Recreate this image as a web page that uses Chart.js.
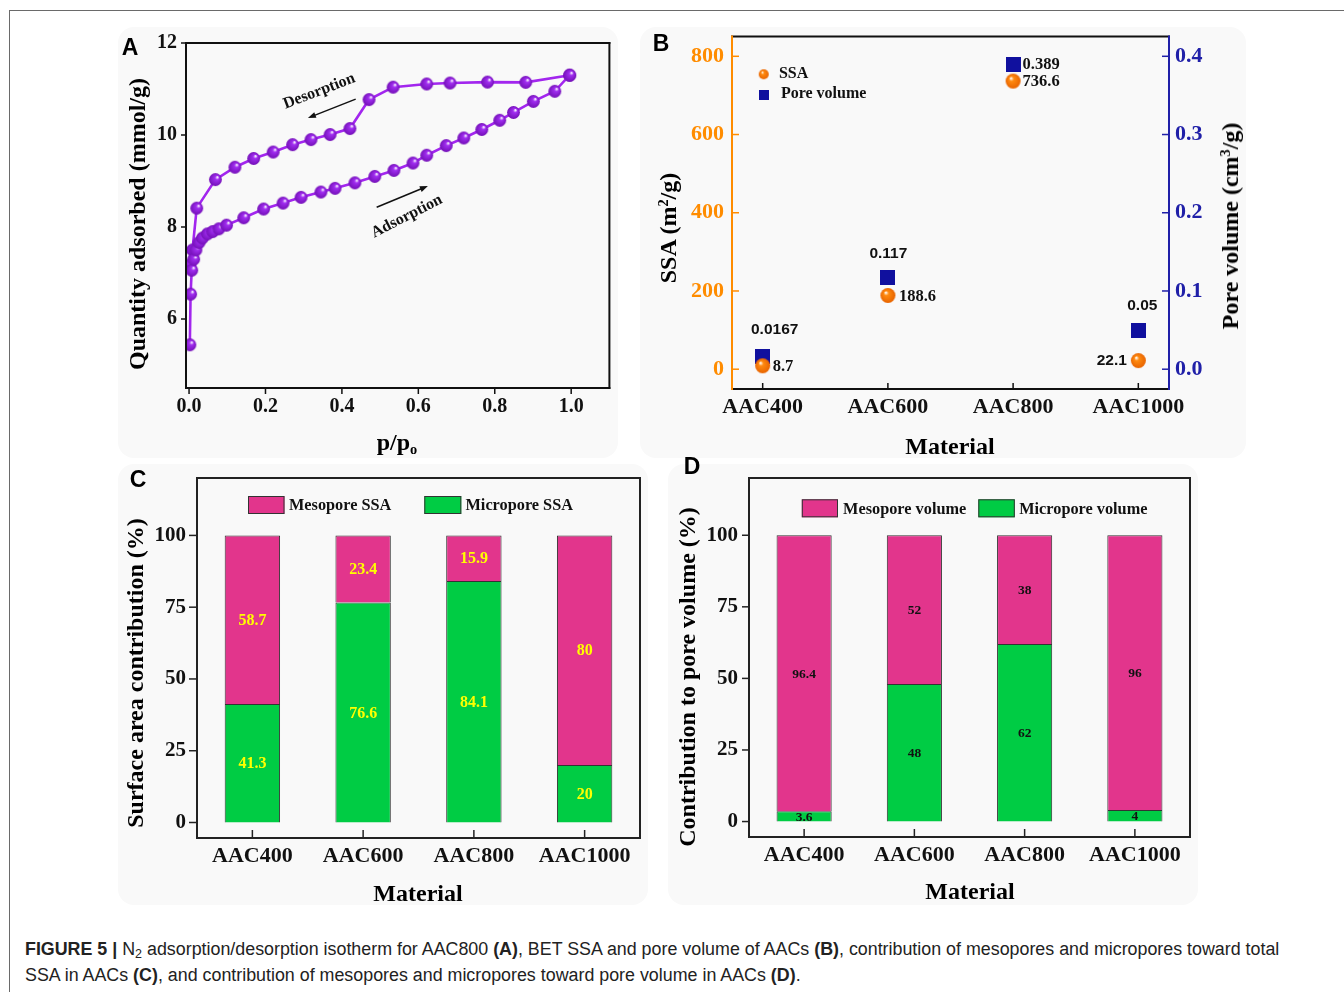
<!DOCTYPE html>
<html><head><meta charset="utf-8">
<script src="https://cdn.jsdelivr.net/npm/chart.js@4.4.1/dist/chart.umd.min.js"></script>
<style>
html,body{margin:0;padding:0;background:#fff;}
body{width:1344px;height:992px;overflow:hidden;position:relative;font-family:'Liberation Serif','Times New Roman',serif;}
.hl{position:absolute;background:#6a6a6a;}
.panel{position:absolute;background:#f9f9f9;border-radius:16px;}
canvas{position:absolute;}
.letter{position:absolute;font-family:'Liberation Sans',Arial,sans-serif;font-weight:bold;font-size:23px;line-height:1;color:#000;transform:translate(-50%,-50%);}
.title{position:absolute;font-family:'Liberation Serif','Times New Roman',serif;font-weight:bold;font-size:24px;line-height:1;white-space:nowrap;color:#000;}
.title sup{font-size:0.6em;vertical-align:0.55em;line-height:0;}
.title sub{font-size:0.6em;vertical-align:-0.3em;line-height:0;}
.caption{position:absolute;left:25px;top:936px;font-family:'Liberation Sans',Arial,sans-serif;font-size:16.5px;line-height:26px;color:#222;white-space:nowrap;}
.caption span{display:block;}
.caption sub{font-size:0.7em;vertical-align:-0.25em;line-height:0;}
</style>
</head>
<body>
<div class="hl" style="left:9px;top:10px;width:1335px;height:1px;"></div>
<div class="hl" style="left:9px;top:10px;width:1px;height:982px;"></div>

<div class="panel" style="left:118px;top:27px;width:500px;height:431px;"></div>
<div class="panel" style="left:640px;top:27px;width:606px;height:431px;"></div>
<div class="panel" style="left:118px;top:464px;width:530px;height:441px;"></div>
<div class="panel" style="left:668px;top:464px;width:530px;height:441px;"></div>

<canvas id="cA" width="500" height="432" style="left:118px;top:28px;"></canvas>
<canvas id="cB" width="605" height="432" style="left:640px;top:28px;"></canvas>
<canvas id="cC" width="530" height="444" style="left:118px;top:462px;"></canvas>
<canvas id="cD" width="530" height="444" style="left:668px;top:462px;"></canvas>

<div class="letter" style="left:130px;top:47px;">A</div>
<div class="letter" style="left:661px;top:43px;">B</div>
<div class="letter" style="left:138px;top:479px;">C</div>
<div class="letter" style="left:692px;top:466px;">D</div>

<div class="title" style="left:137px;top:224px;transform:translate(-50%,-50%) rotate(-90deg);">Quantity adsorbed (mmol/g)</div>
<div class="title" style="left:397px;top:442px;transform:translate(-50%,-50%);">p/p<sub>o</sub></div>
<div class="title" style="left:668px;top:228px;transform:translate(-50%,-50%) rotate(-90deg);">SSA (m<sup>2</sup>/g)</div>
<div class="title" style="left:1230px;top:226px;transform:translate(-50%,-50%) rotate(-90deg);">Pore volume (cm<sup>3</sup>/g)</div>
<div class="title" style="left:950px;top:446px;transform:translate(-50%,-50%);">Material</div>
<div class="title" style="left:135px;top:673px;transform:translate(-50%,-50%) rotate(-90deg);">Surface area contribution (%)</div>
<div class="title" style="left:418px;top:893px;transform:translate(-50%,-50%);">Material</div>
<div class="title" style="left:687px;top:677px;transform:translate(-50%,-50%) rotate(-90deg);">Contribution to pore volume (%)</div>
<div class="title" style="left:970px;top:891px;transform:translate(-50%,-50%);">Material</div>

<div class="caption" id="cap">
<span id="cap1"><b>FIGURE 5 |</b> N<sub>2</sub> adsorption/desorption isotherm for AAC800 <b>(A)</b>, BET SSA and pore volume of AACs <b>(B)</b>, contribution of mesopores and micropores toward total</span>
<span>SSA in AACs <b>(C)</b>, and contribution of mesopores and micropores toward pore volume in AACs <b>(D)</b>.</span>
</div>

<script>
// ---------------- DATA ----------------
const materials = ['AAC400', 'AAC600', 'AAC800', 'AAC1000'];

// Panel A: N2 isotherm (p/p0, mmol/g)
const adsorptionP = [0.002, 0.004, 0.007, 0.012, 0.018, 0.026, 0.035, 0.048, 0.062, 0.078, 0.098, 0.143, 0.195, 0.246, 0.293, 0.345, 0.382, 0.434, 0.486, 0.536, 0.586, 0.622, 0.673, 0.719, 0.766, 0.813, 0.849, 0.901, 0.957, 0.996];
const adsorptionQ = [5.44, 6.54, 7.06, 7.30, 7.50, 7.66, 7.76, 7.85, 7.90, 7.96, 8.04, 8.20, 8.39, 8.52, 8.645, 8.76, 8.84, 8.96, 9.10, 9.23, 9.39, 9.56, 9.77, 9.935, 10.12, 10.32, 10.49, 10.73, 10.95, 11.30];
const desorptionP = [0.996, 0.881, 0.781, 0.683, 0.622, 0.534, 0.471, 0.421, 0.369, 0.319, 0.271, 0.220, 0.169, 0.120, 0.069, 0.020, 0.009, 0.002];
const desorptionQ = [11.30, 11.145, 11.15, 11.13, 11.11, 11.04, 10.77, 10.14, 10.01, 9.90, 9.79, 9.63, 9.49, 9.30, 9.03, 8.41, 7.50, 7.17];
const isothermXTicks = [0, 0.2, 0.4, 0.6, 0.8, 1.0];
const isothermYTicks = [6, 8, 10, 12];

// Panel B
const ssaValues = [8.7, 188.6, 736.6, 22.1];
const poreVolumeValues = [0.0167, 0.117, 0.389, 0.05];
const ssaTicks = [0, 200, 400, 600, 800];
const poreTicks = [0.0, 0.1, 0.2, 0.3, 0.4];

// Panel C (%)
const microporeSSA = [41.3, 76.6, 84.1, 20];
const mesoporeSSA = [58.7, 23.4, 15.9, 80];

// Panel D (%)
const microporeVolume = [3.6, 48, 62, 4];
const mesoporeVolume = [96.4, 52, 38, 96];
const percentTicks = [0, 25, 50, 75, 100];

// ---------------- STYLE ----------------
const SERIF = "'Liberation Serif', 'Times New Roman', serif";
const SANS = "'Liberation Sans', Arial, sans-serif";
const PURPLE = '#A226EE';
const ORANGE = '#FF8C00';
const NAVY = '#10109E';
const AXISBLUE = '#2020A8';
const PINK = '#E2358C';
const GREEN = '#00CC44';

function sphere(r, base, dark, hx, hy) {
  const s = Math.ceil(2 * r + 2);
  const c = document.createElement('canvas');
  c.width = s; c.height = s;
  const g = c.getContext('2d');
  const cx = s / 2, cy = s / 2;
  const grad = g.createRadialGradient(cx + hx * r, cy + hy * r, r * 0.05, cx, cy, r);
  grad.addColorStop(0, '#ffffff');
  grad.addColorStop(0.28, base);
  grad.addColorStop(1, dark);
  g.fillStyle = grad;
  g.beginPath(); g.arc(cx, cy, r, 0, Math.PI * 2); g.fill();
  return c;
}
function square(side, color) {
  const c = document.createElement('canvas');
  c.width = side; c.height = side;
  const g = c.getContext('2d');
  g.fillStyle = color; g.fillRect(0, 0, side, side);
  return c;
}
const purpleBall = sphere(6.4, '#A12EF0', '#7410B8', 0.35, -0.4);
const orangeBall = sphere(7.5, '#FF8A10', '#E86400', -0.3, -0.4);
const navySquare = square(15, NAVY);
const orangeBallSmall = sphere(5, '#FF8A10', '#E86400', -0.3, -0.4);
const navySquareSmall = square(10, NAVY);

const fixTicks = (arr) => (s) => { s.ticks = arr.map(v => ({ value: v })); };
const fitY = (w) => (s) => { s.width = w; s.paddingTop = 0; s.paddingBottom = 0; };
const fitX = (h) => (s) => { s.height = h; s.paddingLeft = 0; s.paddingRight = 0; };

const framePlugin = {
  id: 'frame',
  afterDraw(chart, args, o) {
    const { ctx, chartArea: a } = chart;
    ctx.save();
    (o.ticks || []).forEach(t => {
      const s = chart.scales[t.scale];
      ctx.strokeStyle = t.color; ctx.lineWidth = t.width || 1.5;
      const sign = t.dir === 'in' ? 1 : -1;
      s.ticks.forEach((tk, i) => {
        const p = s.getPixelForTick(i);
        ctx.beginPath();
        if (t.side === 'left') { ctx.moveTo(a.left, p); ctx.lineTo(a.left + sign * t.len, p); }
        else if (t.side === 'right') { ctx.moveTo(a.right, p); ctx.lineTo(a.right - sign * t.len, p); }
        else { ctx.moveTo(p, a.bottom); ctx.lineTo(p, a.bottom - sign * t.len); }
        ctx.stroke();
      });
    });
    const lw = o.lineWidth || 2, h = lw / 2;
    ctx.lineWidth = lw;
    const seg = (c, x1, y1, x2, y2) => { ctx.strokeStyle = c; ctx.beginPath(); ctx.moveTo(x1, y1); ctx.lineTo(x2, y2); ctx.stroke(); };
    seg(o.top, a.left - h, a.top, a.right + h, a.top);
    seg(o.bottom, a.left - h, a.bottom, a.right + h, a.bottom);
    seg(o.left, a.left, a.top - h, a.left, a.bottom + h);
    seg(o.right, a.right, a.top - h, a.right, a.bottom + h);
    ctx.restore();
  }
};

const barLabelPlugin = {
  id: 'barLabels',
  afterDatasetsDraw(chart, args, o) {
    const ctx = chart.ctx;
    ctx.save();
    ctx.font = o.font; ctx.fillStyle = o.color;
    ctx.textAlign = 'center'; ctx.textBaseline = 'middle';
    chart.data.datasets.forEach((ds, di) => {
      chart.getDatasetMeta(di).data.forEach((el, i) => {
        ctx.fillText(String(ds.data[i]), el.x, (el.y + el.base) / 2 + (o.dy || 0));
      });
    });
    ctx.restore();
  }
};

const boxLegendPlugin = {
  id: 'boxLegend',
  afterDraw(chart, args, o) {
    const ctx = chart.ctx;
    ctx.save();
    o.items.forEach(it => {
      const ds = chart.data.datasets[it.dataset];
      ctx.fillStyle = ds.backgroundColor;
      ctx.fillRect(it.x, it.y, it.w, it.h);
      ctx.strokeStyle = '#333'; ctx.lineWidth = 1;
      ctx.strokeRect(it.x + 0.5, it.y + 0.5, it.w - 1, it.h - 1);
      ctx.fillStyle = '#111'; ctx.font = o.font;
      ctx.textAlign = 'left'; ctx.textBaseline = 'middle';
      ctx.fillText(ds.label, it.tx, it.y + it.h / 2 + 1);
    });
    ctx.restore();
  }
};

const notesPlugin = {
  id: 'notes',
  afterDatasetsDraw(chart, args, o) {
    const { ctx } = chart;
    const sx = chart.scales.x, sy = chart.scales.y;
    ctx.save();
    ctx.fillStyle = '#111'; ctx.strokeStyle = '#111';
    o.arrows.forEach(ar => {
      const x1 = sx.getPixelForValue(ar.from[0]), y1 = sy.getPixelForValue(ar.from[1]);
      const x2 = sx.getPixelForValue(ar.to[0]), y2 = sy.getPixelForValue(ar.to[1]);
      const ang = Math.atan2(y2 - y1, x2 - x1);
      const hl = 8, hw = 3;
      ctx.lineWidth = 1.5;
      ctx.beginPath(); ctx.moveTo(x1, y1);
      ctx.lineTo(x2 - Math.cos(ang) * hl * 0.8, y2 - Math.sin(ang) * hl * 0.8); ctx.stroke();
      ctx.beginPath();
      ctx.moveTo(x2, y2);
      ctx.lineTo(x2 - Math.cos(ang) * hl + Math.sin(ang) * hw, y2 - Math.sin(ang) * hl - Math.cos(ang) * hw);
      ctx.lineTo(x2 - Math.cos(ang) * hl - Math.sin(ang) * hw, y2 - Math.sin(ang) * hl + Math.cos(ang) * hw);
      ctx.closePath(); ctx.fill();
    });
    ctx.font = o.font; ctx.textAlign = 'center'; ctx.textBaseline = 'middle';
    o.labels.forEach(l => {
      ctx.save();
      ctx.translate(sx.getPixelForValue(l.at[0]), sy.getPixelForValue(l.at[1]));
      ctx.rotate(l.angle * Math.PI / 180);
      ctx.fillText(l.text, 0, 0);
      ctx.restore();
    });
    ctx.restore();
  }
};

const pointLabelPlugin = {
  id: 'pointLabels',
  afterDatasetsDraw(chart, args, o) {
    const ctx = chart.ctx;
    ctx.save();
    ctx.fillStyle = '#111'; ctx.textBaseline = 'middle';
    o.sets.forEach(set => {
      const ds = chart.data.datasets[set.dataset];
      chart.getDatasetMeta(set.dataset).data.forEach((el, i) => {
        const st = set.styles[i];
        ctx.font = st.serif ? `bold 16.5px ${SERIF}` : `bold 15.5px ${SANS}`;
        ctx.textAlign = st.align;
        ctx.fillText(String(ds.data[i].y), el.x + st.dx, el.y + st.dy);
      });
    });
    ctx.restore();
  }
};

const pointLegendPlugin = {
  id: 'pointLegend',
  afterDraw(chart, args, o) {
    const ctx = chart.ctx;
    ctx.save();
    ctx.fillStyle = '#111'; ctx.font = o.font; ctx.textAlign = 'left'; ctx.textBaseline = 'middle';
    o.items.forEach(it => {
      const ds = chart.data.datasets[it.dataset];
      ctx.drawImage(it.icon, it.x - it.icon.width / 2, it.y - it.icon.height / 2);
      ctx.fillText(ds.label, it.tx, it.ty);
    });
    ctx.restore();
  }
};

Chart.defaults.animation = false;
Chart.defaults.responsive = false;
Chart.defaults.plugins.legend.display = false;
Chart.defaults.plugins.tooltip.enabled = false;

const tickFont = (size) => ({ family: SERIF, weight: 'bold', size: size });
const noGrid = { display: false, drawTicks: false };
const noBorder = { display: false };

// ---------------- PANEL A ----------------
new Chart(document.getElementById('cA'), {
  type: 'line',
  data: {
    datasets: [
      { label: 'Adsorption', data: adsorptionP.map((p, i) => ({ x: p, y: adsorptionQ[i] })),
        borderColor: PURPLE, borderWidth: 2.6, pointStyle: purpleBall, pointRadius: 6, tension: 0, fill: false },
      { label: 'Desorption', data: desorptionP.map((p, i) => ({ x: p, y: desorptionQ[i] })),
        borderColor: PURPLE, borderWidth: 2.6, pointStyle: purpleBall, pointRadius: 6, tension: 0, fill: false }
    ]
  },
  options: {
    layout: { padding: { top: 15, right: 7, left: 0, bottom: 0 } },
    scales: {
      x: { type: 'linear', min: -0.008, max: 1.1, grid: noGrid, border: noBorder,
           afterBuildTicks: fixTicks(isothermXTicks), afterFit: fitX(72),
           ticks: { autoSkip: false, font: tickFont(20), color: '#111', padding: 7, callback: v => v.toFixed(1) } },
      y: { type: 'linear', min: 4.5, max: 12, grid: noGrid, border: noBorder,
           afterBuildTicks: fixTicks(isothermYTicks), afterFit: fitY(68),
           ticks: { autoSkip: false, font: tickFont(20), color: '#111', padding: 9, callback: v => String(v) } }
    },
    plugins: {
      frame: { lineWidth: 2, top: '#111', bottom: '#111', left: '#111', right: '#111',
               ticks: [{ scale: 'y', side: 'left', dir: 'out', len: 5, color: '#111' },
                       { scale: 'x', side: 'bottom', dir: 'out', len: 6, color: '#111' }] },
      notes: { font: `bold 16px ${SERIF}`,
               labels: [{ text: 'Desorption', at: [0.341, 10.95], angle: -21 },
                        { text: 'Adsorption', at: [0.570, 8.23], angle: -27 }],
               arrows: [{ from: [0.436, 10.78], to: [0.311, 10.37] },
                        { from: [0.491, 8.43], to: [0.625, 8.89] }] }
    }
  },
  plugins: [framePlugin, notesPlugin]
});

// ---------------- PANEL B ----------------
new Chart(document.getElementById('cB'), {
  type: 'scatter',
  data: {
    datasets: [
      { label: 'SSA', data: ssaValues.map((v, i) => ({ x: i, y: v })), yAxisID: 'y',
        pointStyle: orangeBall, pointRadius: 7.5, showLine: false },
      { label: 'Pore volume', data: poreVolumeValues.map((v, i) => ({ x: i, y: v })), yAxisID: 'y1',
        pointStyle: navySquare, pointRadius: 7.5, showLine: false }
    ]
  },
  options: {
    layout: { padding: { top: 5, right: 0, left: 0, bottom: 0 } },
    scales: {
      x: { type: 'linear', min: -0.245, max: 3.245, grid: noGrid, border: noBorder,
           afterBuildTicks: fixTicks(materials.map((m, i) => i)), afterFit: fitX(71),
           ticks: { autoSkip: false, font: tickFont(22), color: '#111', padding: 5, callback: v => materials[v] } },
      y: { type: 'linear', position: 'left', min: -50.6, max: 850.6, grid: noGrid, border: noBorder,
           afterBuildTicks: fixTicks(ssaTicks), afterFit: fitY(92),
           ticks: { autoSkip: false, font: tickFont(22), color: ORANGE, padding: 8, callback: v => String(v) } },
      y1: { type: 'linear', position: 'right', min: -0.0253, max: 0.4253, grid: noGrid, border: noBorder,
           afterBuildTicks: fixTicks(poreTicks), afterFit: fitY(76),
           ticks: { autoSkip: false, font: tickFont(22), color: AXISBLUE, padding: 6, callback: v => v.toFixed(1) } }
    },
    plugins: {
      frame: { lineWidth: 2, top: '#111', bottom: '#111', left: ORANGE, right: AXISBLUE,
               ticks: [{ scale: 'y', side: 'left', dir: 'in', len: 7, color: ORANGE },
                       { scale: 'y1', side: 'right', dir: 'in', len: 7, color: AXISBLUE },
                       { scale: 'x', side: 'bottom', dir: 'in', len: 6, color: '#111' }] },
      pointLabels: { sets: [
        { dataset: 0, styles: [
          { dx: 10, dy: 1, align: 'left', serif: true },
          { dx: 11, dy: 1, align: 'left', serif: true },
          { dx: 9.5, dy: 1, align: 'left', serif: true },
          { dx: -11.5, dy: 0, align: 'right', serif: false }] },
        { dataset: 1, styles: [
          { dx: 12, dy: -26, align: 'center', serif: false },
          { dx: 0.5, dy: -24, align: 'center', serif: false },
          { dx: 9.5, dy: 0, align: 'left', serif: true },
          { dx: 4, dy: -24, align: 'center', serif: false }] }
      ] },
      pointLegend: { font: `bold 16px ${SERIF}`, items: [
        { dataset: 0, icon: orangeBallSmall, x: 123.7, y: 46.3, tx: 138.9, ty: 45.5 },
        { dataset: 1, icon: navySquareSmall, x: 123.7, y: 67, tx: 140.9, ty: 66 }
      ] }
    }
  },
  plugins: [framePlugin, pointLabelPlugin, pointLegendPlugin]
});

// ---------------- PANELS C & D ----------------
function stackedChart(id, micro, meso, microLabel, mesoLabel, yWidth, xHeight, labelFont, labelColor, legendItems, yTickLen) {
  return new Chart(document.getElementById(id), {
    type: 'bar',
    data: {
      labels: materials,
      datasets: [
        { label: microLabel, data: micro, backgroundColor: GREEN, borderColor: '#333', borderWidth: 1,
          categoryPercentage: 1, barPercentage: 0.5 },
        { label: mesoLabel, data: meso, backgroundColor: PINK, borderColor: '#333', borderWidth: 1,
          categoryPercentage: 1, barPercentage: 0.5 }
      ]
    },
    options: {
      layout: { padding: { top: 16, right: 8, left: 0, bottom: 0 } },
      scales: {
        x: { stacked: true, grid: noGrid, border: noBorder, afterFit: fitX(xHeight),
             ticks: { autoSkip: false, font: tickFont(22), color: '#111', padding: 5 } },
        y: { stacked: true, min: -5.4, max: 120, grid: noGrid, border: noBorder,
             afterBuildTicks: fixTicks(percentTicks), afterFit: fitY(yWidth),
             ticks: { autoSkip: false, font: tickFont(21), color: '#111', padding: 11, callback: v => String(v) } }
      },
      plugins: {
        frame: { lineWidth: 2, top: '#222', bottom: '#222', left: '#222', right: '#222',
                 ticks: [{ scale: 'y', side: 'left', dir: 'out', len: yTickLen, color: '#222' },
                         { scale: 'x', side: 'bottom', dir: 'in', len: 8, color: '#222' }] },
        barLabels: { font: labelFont, color: labelColor, dy: 1 },
        boxLegend: { font: `bold 16.3px ${SERIF}`, items: legendItems }
      }
    },
    plugins: [framePlugin, barLabelPlugin, boxLegendPlugin]
  });
}

stackedChart('cC', microporeSSA, mesoporeSSA, 'Micropore SSA', 'Mesopore SSA', 79, 68,
  `bold 16px ${SERIF}`, '#FFFF00',
  [{ dataset: 1, x: 130, y: 34, w: 36.5, h: 18, tx: 171 },
   { dataset: 0, x: 306.3, y: 34, w: 37, h: 18, tx: 347.5 }], 8);

stackedChart('cD', microporeVolume, mesoporeVolume, 'Micropore volume', 'Mesopore volume', 81, 69,
  `bold 13.5px ${SERIF}`, '#111',
  [{ dataset: 1, x: 133.8, y: 37.3, w: 36.2, h: 18, tx: 175.1 },
   { dataset: 0, x: 310.3, y: 37.3, w: 36.5, h: 18, tx: 351.2 }], 7);

// fit caption first line to the reference width
(function () {
  const s = document.getElementById('cap1');
  const w = s.getBoundingClientRect().width;
  const target = 1255;
  const cur = parseFloat(getComputedStyle(document.getElementById('cap')).fontSize);
  document.getElementById('cap').style.fontSize = (cur * target / w).toFixed(2) + 'px';
})();
</script>
</body></html>
